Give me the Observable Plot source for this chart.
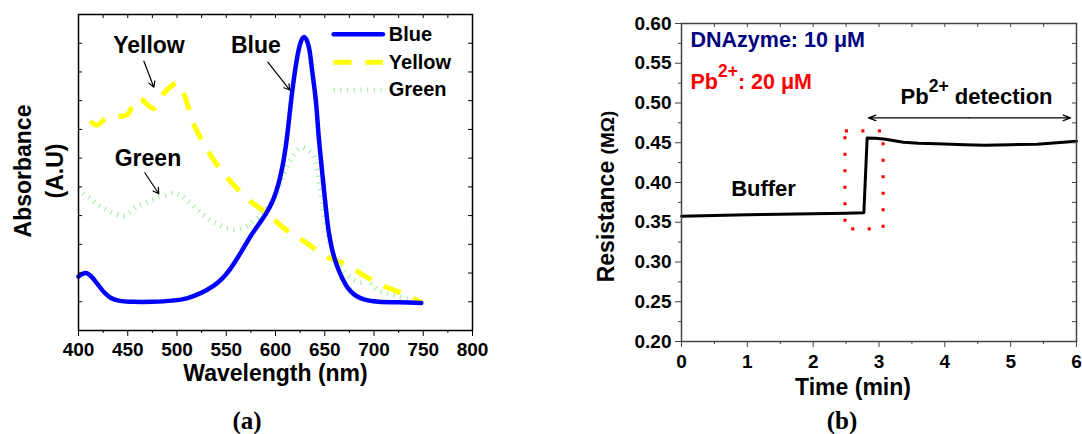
<!DOCTYPE html>
<html><head><meta charset="utf-8">
<script src="https://cdn.jsdelivr.net/npm/d3@7"></script>
<script src="https://cdn.jsdelivr.net/npm/@observablehq/plot@0.6"></script>
<style>
body{margin:0;background:#fff;}
#wrap{position:relative;width:1082px;height:434px;overflow:hidden;font-family:"Liberation Sans",Arial,sans-serif;}
.panel{position:absolute;top:0;}
.cap{position:absolute;top:406px;line-height:30px;font-family:"Liberation Serif","Times New Roman",serif;font-weight:bold;font-size:25px;transform:translateX(-50%);color:#000;}
</style></head><body>
<div id="wrap">
  <div id="pa" class="panel" style="left:0"></div>
  <div id="pb" class="panel" style="left:541px"></div>
  <div class="cap" style="left:247px">(a)</div>
  <div class="cap" style="left:842px">(b)</div>
</div>
<script>
// ---------- Panel (a) data: absorbance spectra ----------
const seriesNames = ["Blue", "Yellow", "Green"];
const blueWl  = [400,404,408,413,419,426,433,442,455,475,495,510,524,537,545,552,560,568,575,583,590,597,602,607,611,617,621,624,627,629,631,634,637,641,644,648,651,654,658,663,668,673,680,687,695,705,725,748];
const blueAbs = [1.88,1.97,2.0,1.88,1.63,1.33,1.13,1.03,1.0,1.0,1.04,1.12,1.3,1.55,1.78,2.05,2.45,2.9,3.3,3.7,4.05,4.5,4.98,5.7,6.55,8.33,9.3,9.84,10.15,10.22,10.15,9.84,9.1,7.99,6.7,5.3,4.3,3.45,2.75,2.2,1.8,1.5,1.25,1.12,1.04,1.0,0.98,0.96];
const yellowWl  = [412,419,429,440,450,458,464,470,476,481,487,494,500,505,509,517,524,538,551,572,590,612,629,653,670,693,709,734,749];
const yellowAbs = [7.29,7.15,7.41,7.45,7.53,8.04,8.05,7.85,7.73,7.87,8.27,8.5,8.62,8.4,8.04,7.18,6.71,5.9,5.32,4.57,4.11,3.47,3.1,2.55,2.32,1.85,1.56,1.22,0.96];
const greenWl  = [400,404,412,419,426,433,445,452,460,467,473,480,487,497,504,511,524,538,555,568,582,595,602,609,614,619,623,627,632,638,641,644,647,649,652,654,658,663,670,676,682,687,693,698,704,712,720,735,749];
const greenAbs = [4.95,4.8,4.6,4.4,4.25,4.11,3.99,4.1,4.34,4.42,4.51,4.62,4.69,4.8,4.7,4.51,4.11,3.76,3.53,3.59,3.93,4.4,4.85,5.44,5.85,6.13,6.3,6.37,6.3,6.13,5.8,5.21,4.6,4.05,3.6,3.13,2.7,2.32,2.05,1.85,1.72,1.68,1.8,1.6,1.39,1.3,1.22,1.08,0.98];
const xMajorA = [400,450,500,550,600,650,700,750,800];
const xMinorA = [425,475,525,575,625,675,725,775];
const yTicksA = [1,2,3,4,5,6,7,8,9,10];

// ---------- Panel (b) data: resistance vs time ----------
const timeMin   = [0,0.5,1,1.5,2,2.5,2.77,2.82,2.95,3.1,3.37,3.6,3.88,4.3,4.6,5.0,5.4,5.8,6.0];
const resistMOhm = [0.3576,0.3585,0.3595,0.3602,0.3608,0.3614,0.3619,0.456,0.4558,0.4545,0.4507,0.4495,0.4487,0.4476,0.447,0.4475,0.4482,0.4505,0.452];
const xMajorB = [0,1,2,3,4,5,6];
const xMinorB = [0.5,1.5,2.5,3.5,4.5,5.5];
const yMajorB = [0.20,0.25,0.30,0.35,0.40,0.45,0.50,0.55,0.60];
const yMinorB = [0.225,0.275,0.325,0.375,0.425,0.475,0.525,0.575];

// ---------- styles ----------
const FONT = "Liberation Sans, Arial, Helvetica, sans-serif";
const seriesStyle = {
  Blue:   {stroke:"#0000ff", strokeWidth:4.5, strokeDasharray:null, strokeLinecap:"round", opacity:1},
  Yellow: {stroke:"#ffff00", strokeWidth:5, strokeDasharray:"18,14", strokeLinecap:"butt", opacity:1},
  Green:  {stroke:"#8fe88f", strokeWidth:5, strokeDasharray:"1.2,5.5", strokeLinecap:"butt", opacity:0.75}
};
const series = {
  Blue: blueWl.map((w,i)=>({wl:w, a:blueAbs[i]})),
  Yellow: yellowWl.map((w,i)=>({wl:w, a:yellowAbs[i]})),
  Green: greenWl.map((w,i)=>({wl:w, a:greenAbs[i]}))
};
// annotation layout (data coordinates)
const legendA = seriesNames.map((s,i)=>({s, x1:659, x2:709, xt:715, y:10.31 - i*0.97}));
const labelsA = [{t:"Yellow", x:471.5, y:9.9},{t:"Blue", x:580, y:9.9},{t:"Green", x:470.5, y:6.0}];
const arrowsA = [
  {x1:466.4, y1:9.375, x2:476.5, y2:8.47},
  {x1:592.2, y1:9.34, x2:614.6, y2:8.37},
  {x1:467.3, y1:5.49, x2:481.5, y2:4.76}
];

const fwA = 541-78-69, fhA = 400-14-70;
const plotA = Plot.plot({
  width:541, height:400, marginLeft:78, marginRight:69, marginTop:14, marginBottom:70,
  style:{fontFamily:FONT, fontWeight:"bold", background:"transparent", overflow:"visible", color:"#000"},
  x:{domain:[400,800], axis:null}, y:{domain:[0,11], axis:null},
  marks:[
    ...["Green","Yellow","Blue"].map(s => Plot.line(series[s], {x:"wl", y:"a", curve:"catmull-rom", strokeLinejoin:"round", ...seriesStyle[s]})),
    ...legendA.map(d => Plot.link([d], {x1:"x1", x2:"x2", y1:"y", y2:"y", ...seriesStyle[d.s]})),
    Plot.text(legendA, {x:"xt", y:"y", text:"s", textAnchor:"start", lineAnchor:"middle", fontSize:20, fontWeight:"bold", fill:"#000"}),
    Plot.text(labelsA, {x:"x", y:"y", text:"t", textAnchor:"middle", lineAnchor:"middle", fontSize:23, fontWeight:"bold", fill:"#000"}),
    Plot.arrow(arrowsA, {x1:"x1", y1:"y1", x2:"x2", y2:"y2", stroke:"#000", strokeWidth:1.2, headLength:8}),
    Plot.frame({stroke:"#000", strokeWidth:1.5}),
    Plot.axisX({ticks:xMajorA, tickSize:6, tickPadding:5.5, fontSize:19, fontWeight:"bold", label:null, tickFormat:d=>String(d)}),
    Plot.axisX({ticks:xMinorA, tickSize:3, text:null, label:null}),
    Plot.tickX([...xMajorA, ...xMinorA], {x:d=>d, insetBottom:fhA-4, stroke:"#000"}),
    Plot.tickY(yTicksA, {y:d=>d, insetRight:fwA-4, stroke:"#000"}),
    Plot.tickY(yTicksA, {y:d=>d, insetLeft:fwA-4, stroke:"#000"}),
    Plot.text(["Wavelength (nm)"], {frameAnchor:"bottom", dy:43.5, lineAnchor:"middle", textAnchor:"middle", fontSize:23, fontWeight:"bold", fill:"#000"}),
    Plot.text(["Absorbance"], {frameAnchor:"left", dx:-55, dy:-1.5, rotate:-90, textAnchor:"middle", lineAnchor:"middle", fontSize:23, fontWeight:"bold", fill:"#000"}),
    Plot.text(["(A.U)"], {frameAnchor:"left", dx:-23, dy:-1.5, rotate:-90, textAnchor:"middle", lineAnchor:"middle", fontSize:23, fontWeight:"bold", fill:"#000"})
  ]
});
document.getElementById("pa").appendChild(plotA);

// ---------- Panel (b) ----------
const resist = timeMin.map((t,i)=>({t, r:resistMOhm[i]}));
const boxB = [{x1:2.49, x2:3.07, y1:0.341, y2:0.4642}];
const spanMid = 4.375, spanY = 0.4813;
const spanB = [{x1:spanMid, x2:2.84, y:spanY},{x1:spanMid, x2:5.91, y:spanY}];
const bufferNote = [{t:"Buffer", x:1.246, y:0.392}];
const detectNote = [{t:"Pb^{2+} detection", x:3.327, y:0.499}];
const fwB = 541-140-6, fhB = 400-23-59;
const plotB = Plot.plot({
  width:541, height:400, marginLeft:140, marginRight:6, marginTop:23, marginBottom:59,
  style:{fontFamily:FONT, fontWeight:"bold", background:"transparent", overflow:"visible", color:"#000"},
  x:{domain:[0,6], axis:null}, y:{domain:[0.2,0.6], axis:null},
  marks:[
    Plot.rect(boxB, {x1:"x1", x2:"x2", y1:"y1", y2:"y2", fill:"none", stroke:"#ff0000", strokeWidth:3.2, strokeDasharray:"3,13.5"}),
    Plot.line(resist, {x:"t", y:"r", stroke:"#000", strokeWidth:3, curve:"linear"}),
    Plot.arrow(spanB, {x1:"x1", x2:"x2", y1:"y", y2:"y", stroke:"#000", strokeWidth:1.3, headLength:9, headAngle:40}),
    Plot.frame({stroke:"#444", strokeWidth:1.5}),
    Plot.axisX({ticks:xMajorB, tickSize:6, tickPadding:7, fontSize:19, fontWeight:"bold", label:null, stroke:"#444", fill:"#000", tickFormat:d=>String(d)}),
    Plot.axisX({ticks:xMinorB, tickSize:3, text:null, label:null, stroke:"#444"}),
    Plot.axisY({ticks:yMajorB, tickSize:6, tickPadding:4, fontSize:19, fontWeight:"bold", label:null, stroke:"#444", fill:"#000", tickFormat:d3.format(".2f")}),
    Plot.axisY({ticks:yMinorB, tickSize:3, text:null, label:null, stroke:"#444"}),
    Plot.tickX([...xMajorB, ...xMinorB], {x:d=>d, insetBottom:fhB-4, stroke:"#444"}),
    Plot.tickY([...yMajorB, ...yMinorB], {y:d=>d, insetLeft:fwB-4, stroke:"#444"}),
    Plot.text(bufferNote, {x:"x", y:"y", text:"t", textAnchor:"middle", lineAnchor:"middle", fontSize:22, fontWeight:"bold", fill:"#000"}),
    Plot.text(detectNote, {x:"x", y:"y", text:"t", textAnchor:"start", lineAnchor:"bottom", fontSize:22, fontWeight:"bold", fill:"#000"}),
    Plot.text(["DNAzyme: 10 μM"], {frameAnchor:"top-left", dx:9, dy:23, textAnchor:"start", lineAnchor:"bottom", fontSize:21.5, fontWeight:"bold", fill:"#00007f"}),
    Plot.text(["Pb^{2+}: 20 μM"], {frameAnchor:"top-left", dx:9, dy:65, textAnchor:"start", lineAnchor:"bottom", fontSize:21.5, fontWeight:"bold", fill:"#ff0000"}),
    Plot.text(["Time (min)"], {frameAnchor:"bottom", dx:-26, dy:46, lineAnchor:"middle", textAnchor:"middle", fontSize:23, fontWeight:"bold", fill:"#000"}),
    Plot.text(["Resistance (MΩ)"], {frameAnchor:"left", dx:-75, dy:14, rotate:-90, textAnchor:"middle", lineAnchor:"middle", fontSize:23, fontWeight:"bold", fill:"#000"})
  ]
});
document.getElementById("pb").appendChild(plotB);

// ---------- rich text post-processing (superscripts, smaller unit) ----------
const NS = "http://www.w3.org/2000/svg";
function richText(svg){
  svg.querySelectorAll("text").forEach(t=>{
    const s = t.textContent;
    if (s.includes("^{")) {
      const m = s.match(/^(.*?)\^\{(.*?)\}(.*)$/);
      t.textContent = "";
      const a = document.createElementNS(NS,"tspan"); a.textContent = m[1];
      const b = document.createElementNS(NS,"tspan"); b.textContent = m[2]; b.setAttribute("dy","-12"); b.setAttribute("font-size","17.5");
      const c = document.createElementNS(NS,"tspan"); c.textContent = m[3]; c.setAttribute("dy","12");
      t.append(a,b,c);
    } else if (s === "Resistance (MΩ)") {
      t.textContent = "";
      const a = document.createElementNS(NS,"tspan"); a.textContent = "Resistance ";
      const b = document.createElementNS(NS,"tspan"); b.textContent = "(MΩ)"; b.setAttribute("font-size","19");
      t.append(a,b);
    }
  });
}
richText(plotB);
</script>
</body></html>
